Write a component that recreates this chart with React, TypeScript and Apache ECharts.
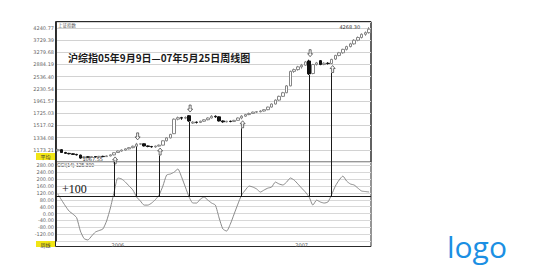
import React, { useEffect, useRef } from "react";
import * as echarts from "echarts";

// Weekly bars of the Shanghai Composite, 2005-09-09 .. 2007-05-25 (holiday weeks skipped)
const weeks = [
  "2005-09-09", "2005-09-16", "2005-09-23", "2005-09-30", "2005-10-14", "2005-10-21", "2005-10-28", "2005-11-04",
  "2005-11-11", "2005-11-18", "2005-11-25", "2005-12-02", "2005-12-09", "2005-12-16", "2005-12-23", "2005-12-30",
  "2006-01-06", "2006-01-13", "2006-01-20", "2006-01-27", "2006-02-10", "2006-02-17", "2006-02-24", "2006-03-03",
  "2006-03-10", "2006-03-17", "2006-03-24", "2006-03-31", "2006-04-07", "2006-04-14", "2006-04-21", "2006-04-28",
  "2006-05-12", "2006-05-19", "2006-05-26", "2006-06-02", "2006-06-09", "2006-06-16", "2006-06-23", "2006-06-30",
  "2006-07-07", "2006-07-14", "2006-07-21", "2006-07-28", "2006-08-04", "2006-08-11", "2006-08-18", "2006-08-25",
  "2006-09-01", "2006-09-08", "2006-09-15", "2006-09-22", "2006-09-29", "2006-10-13", "2006-10-20", "2006-10-27",
  "2006-11-03", "2006-11-10", "2006-11-17", "2006-11-24", "2006-12-01", "2006-12-08", "2006-12-15", "2006-12-22",
  "2006-12-29", "2007-01-05", "2007-01-12", "2007-01-19", "2007-01-26", "2007-02-02", "2007-02-09", "2007-02-16",
  "2007-03-02", "2007-03-09", "2007-03-16", "2007-03-23", "2007-03-30", "2007-04-06", "2007-04-13", "2007-04-20",
  "2007-04-27", "2007-05-11", "2007-05-18", "2007-05-25",
];

const opens = [
  1162, 1175, 1140, 1130, 1125, 1118, 1110, 1078, 1090, 1085,
  1092, 1088, 1095, 1092, 1100, 1112, 1140, 1158, 1170, 1185,
  1200, 1218, 1245, 1250, 1222, 1215, 1210, 1220, 1232, 1290,
  1330, 1390, 1620, 1645, 1638, 1680, 1555, 1570, 1565, 1585,
  1610, 1640, 1670, 1660, 1590, 1575, 1585, 1580, 1600, 1640,
  1672, 1700, 1720, 1745, 1752, 1765, 1790, 1840, 1900, 1980,
  2060, 2140, 2300, 2680, 2730, 2810, 2860, 2990, 2620, 2880,
  3000, 2880, 2920, 2910, 3050, 3170, 3260, 3380, 3480, 3580,
  3720, 3830, 3960, 4030,
];

const closes = [
  1175, 1140, 1130, 1125, 1118, 1112, 1075, 1090, 1085, 1092,
  1088, 1095, 1092, 1100, 1112, 1138, 1158, 1170, 1185, 1200,
  1218, 1245, 1250, 1222, 1215, 1210, 1220, 1232, 1290, 1330,
  1380, 1620, 1645, 1638, 1650, 1590, 1570, 1565, 1585, 1610,
  1640, 1670, 1660, 1590, 1575, 1585, 1580, 1600, 1640, 1672,
  1700, 1720, 1745, 1752, 1765, 1790, 1840, 1900, 1980, 2060,
  2140, 2300, 2680, 2730, 2810, 2860, 2960, 2610, 2880, 2930,
  2880, 2920, 2910, 3040, 3170, 3260, 3380, 3480, 3580, 3720,
  3830, 3960, 4030, 4180,
];

const lows = [
  1155, 1135, 1125, 1118, 1112, 1105, 1067.55, 1072, 1078, 1080,
  1082, 1083, 1086, 1088, 1094, 1106, 1135, 1150, 1162, 1178,
  1192, 1212, 1236, 1215, 1205, 1200, 1198, 1214, 1228, 1282,
  1322, 1385, 1600, 1610, 1620, 1575, 1540, 1548, 1555, 1575,
  1600, 1630, 1645, 1580, 1560, 1565, 1568, 1572, 1595, 1618,
  1660, 1690, 1710, 1730, 1740, 1755, 1780, 1830, 1890, 1965,
  2045, 2130, 2290, 2640, 2700, 2760, 2840, 2580, 2600, 2850,
  2860, 2860, 2880, 2895, 3020, 3140, 3230, 3340, 3450, 3550,
  3680, 3790, 3900, 3990,
];

const highs = [
  1185, 1180, 1148, 1136, 1130, 1124, 1114, 1096, 1096, 1098,
  1097, 1100, 1102, 1106, 1118, 1142, 1164, 1178, 1192, 1208,
  1226, 1262, 1258, 1255, 1228, 1222, 1226, 1240, 1296, 1338,
  1388, 1632, 1665, 1660, 1668, 1692, 1585, 1580, 1595, 1620,
  1652, 1690, 1685, 1668, 1598, 1592, 1595, 1608, 1650, 1690,
  1712, 1735, 1755, 1765, 1780, 1800, 1848, 1912, 1995, 2075,
  2160, 2320, 2700, 2760, 2840, 2900, 2990, 3030, 2900, 2960,
  3020, 2950, 2950, 3060, 3190, 3290, 3400, 3510, 3620, 3760,
  3870, 4000, 4080, 4268.3,
];

// CCI(14) on the weekly bars
const cci = [
  113, 78, 44, 14, -3, -24, -102, -146, -154, -131,
  -108, -99, -90, -43, 32, 125, 207, 201, 183, 160,
  137, 96, 73, 49, 49, 61, 81, 108, 160, 224,
  230, 241, 259, 212, 154, 96, 61, 61, 84, 96,
  78, 61, 49, -26, -90, -102, -61, -3, 55, 108,
  137, 160, 154, 143, 125, 137, 148, 154, 183, 172,
  166, 183, 207, 195, 172, 148, 125, 96, 49, 78,
  67, 61, 67, 110, 160, 195, 218, 189, 172, 166,
  148, 131, 128, 125.3,
];

// weeks where CCI crosses its +100 level
const buyWeeks = ["2005-12-30", "2006-03-31", "2006-09-08", "2007-03-09"];
const sellWeeks = ["2006-02-17", "2006-06-02", "2007-01-19"];

const TITLE = "沪综指05年9月9日—07年5月25日周线图";

// price panel: log scale, a grid line every STEP in natural-log units
const STEP = 0.1285;
const LN_MIN = 54 * STEP;
const LN_MAX = 8.4136;
const PRICE_MIN = Math.exp(LN_MIN);
const PRICE_MAX = Math.exp(LN_MAX);

const LEFT = 56;
const WIDTH = 315;
const MAIN_TOP = 22;
const MAIN_H = 140;
const SUB_TOP = MAIN_TOP + MAIN_H;
const SUB_H = 79;
const FRAME_BOTTOM = 247;
const PX_LN = (LN_MAX - LN_MIN) / MAIN_H;

const CCI_MIN = -160;
const CCI_MAX = 300;
const CCI_STEP = 40;
const CCI_LEVEL = 100;

const UP_ARROW = "path://M2.5,0 L5,3 L3.5,3 L3.5,7 L1.5,7 L1.5,3 L0,3 Z";
const DOWN_ARROW = "path://M2.5,7 L5,4 L3.5,4 L3.5,0 L1.5,0 L1.5,4 L0,4 Z";

export default function App() {
  const ref = useRef<HTMLDivElement>(null);

  useEffect(() => {
    if (!ref.current) return;
    const chart = echarts.init(ref.current, null, { renderer: "svg" });

    const candles = weeks.map((_, i) => [opens[i], closes[i], lows[i], highs[i]]);
    const buyIdx = buyWeeks.map((w) => weeks.indexOf(w));
    const sellIdx = sellWeeks.map((w) => weeks.indexOf(w));
    const allIdx = [...buyIdx, ...sellIdx];

    // connector from each signal bar down to the panel edge
    const priceLinks = [
      ...buyIdx.map((i) => [
        { coord: [i, lows[i] * Math.exp(-9 * PX_LN)] },
        { coord: [i, PRICE_MIN] },
      ]),
      ...sellIdx.map((i) => [{ coord: [i, lows[i]] }, { coord: [i, PRICE_MIN] }]),
    ];
    const cciLinks = allIdx.map((i) => [{ coord: [i, CCI_MAX] }, { coord: [i, CCI_LEVEL] }]);

    const isYearStart = (i: number) =>
      i > 0 && weeks[i].slice(0, 4) !== weeks[i - 1].slice(0, 4);

    const option: any = {
      animation: false,
      backgroundColor: "#ffffff",
      textStyle: { fontFamily: "DejaVu Sans" },
      grid: [
        {
          left: LEFT, top: MAIN_TOP, width: WIDTH, height: MAIN_H,
          show: true, borderColor: "#333", borderWidth: 1, backgroundColor: "transparent",
        },
        { left: LEFT, top: SUB_TOP, width: WIDTH, height: SUB_H },
      ],
      xAxis: [
        {
          type: "category", gridIndex: 0, data: weeks, boundaryGap: true,
          axisLine: { show: false }, axisTick: { show: false }, axisLabel: { show: false },
          splitLine: { show: false },
        },
        {
          type: "category", gridIndex: 1, data: weeks, boundaryGap: true,
          axisLine: { show: false }, axisTick: { show: false }, splitLine: { show: false },
          axisLabel: {
            show: true,
            interval: (i: number) => isYearStart(i),
            formatter: (v: string) => v.slice(0, 4),
            fontSize: 5, color: "#555", margin: 1,
          },
        },
      ],
      yAxis: [
        {
          type: "log", gridIndex: 0, position: "right", min: PRICE_MIN, max: PRICE_MAX, show: false,
          splitLine: { show: false },
        },
        {
          type: "value", gridIndex: 0, position: "left", min: LN_MIN, max: LN_MAX, interval: STEP,
          axisLine: { show: true, lineStyle: { color: "#333", width: 1 } },
          axisTick: { show: false },
          axisLabel: {
            fontSize: 5, color: "#666", margin: 2,
            showMinLabel: false, showMaxLabel: false,
            formatter: (v: number) => Math.exp(v).toFixed(2),
          },
          splitLine: { show: true, lineStyle: { color: "#d2d2d2", width: 1 } },
        },
        {
          type: "value", gridIndex: 1, position: "left", min: CCI_MIN, max: CCI_MAX, interval: CCI_STEP,
          axisLine: { show: true, lineStyle: { color: "#333", width: 1 } },
          axisTick: { show: false },
          axisLabel: {
            fontSize: 5, color: "#666", margin: 2,
            showMinLabel: false, showMaxLabel: false,
            formatter: (v: number) => v.toFixed(2),
          },
          splitLine: { show: true, lineStyle: { color: "#d8d8d8", width: 1 } },
        },
      ],
      series: [
        {
          type: "candlestick", name: "周线", xAxisIndex: 0, yAxisIndex: 0,
          data: candles, barWidth: 3,
          itemStyle: {
            color: "#ffffff", color0: "#111111",
            borderColor: "#858585", borderColor0: "#111111", borderWidth: 1,
          },
          markPoint: {
            symbol: "circle", symbolSize: 0, silent: true,
            label: {
              show: true, fontSize: 5, color: "#333",
              formatter: (p: any) => Number(p.value).toFixed(2),
            },
            data: [
              { type: "max", valueDim: "highest", label: { position: "left", distance: 9 } },
              { type: "min", valueDim: "lowest", label: { position: "right", distance: 2 } },
            ],
          },
          markLine: {
            symbol: ["none", "none"], silent: true,
            label: { show: false },
            lineStyle: { color: "#1a1a1a", width: 1, type: "solid" },
            emphasis: { disabled: true },
            data: priceLinks,
          },
        },
        {
          type: "scatter", name: "买入", xAxisIndex: 0, yAxisIndex: 0,
          data: buyIdx.map((i) => [i, lows[i]]),
          symbol: UP_ARROW, symbolSize: [5, 7], symbolOffset: [1, 5],
          itemStyle: { color: "#ffffff", borderColor: "#222", borderWidth: 0.8 },
          silent: true,
        },
        {
          type: "scatter", name: "卖出", xAxisIndex: 0, yAxisIndex: 0,
          data: sellIdx.map((i) => [i, highs[i]]),
          symbol: DOWN_ARROW, symbolSize: [5, 7], symbolOffset: [1, -6.5],
          itemStyle: { color: "#ffffff", borderColor: "#222", borderWidth: 0.8 },
          silent: true,
        },
        {
          type: "line", name: "CCI", xAxisIndex: 1, yAxisIndex: 2,
          data: cci, showSymbol: false, smooth: 0.2,
          lineStyle: { color: "#8a8a8a", width: 1 },
          markLine: {
            symbol: ["none", "none"], silent: true,
            label: { show: false },
            lineStyle: { color: "#1a1a1a", width: 1, type: "solid" },
            emphasis: { disabled: true },
            data: [
              {
                yAxis: CCI_LEVEL,
                label: {
                  show: true, position: "insideStartTop", formatter: "+" + CCI_LEVEL,
                  fontSize: 12, fontFamily: "Liberation Serif", color: "#111", distance: [6, 1],
                },
              },
              ...cciLinks,
            ],
          },
        },
      ],
      graphic: [
        {
          type: "rect", silent: true,
          shape: { x: LEFT - 0.5, y: MAIN_TOP - 0.5, width: WIDTH + 0.5, height: FRAME_BOTTOM - MAIN_TOP },
          style: { fill: "none", stroke: "#2a2a2a", lineWidth: 1 },
        },
        {
          type: "text", x: 68, y: 57, silent: true,
          style: {
            text: TITLE, fontSize: 10, fontWeight: "bold", fontFamily: "Noto Sans CJK SC",
            fill: "#1a1a1a", verticalAlign: "middle",
          },
        },
        {
          type: "text", x: 58, y: 24.5, silent: true,
          style: { text: "上证指数", fontSize: 4.5, fill: "#555", verticalAlign: "middle", fontFamily: "Noto Sans CJK SC" },
        },
        {
          type: "text", x: 57, y: 165, silent: true,
          style: {
            text: `CCI(14) ${cci[cci.length - 1].toFixed(3)}`, fontSize: 5, fill: "#444",
            verticalAlign: "middle",
          },
        },
        {
          type: "rect", silent: true, shape: { x: 36, y: 153, width: 19, height: 7 },
          style: { fill: "#f1e515" },
        },
        {
          type: "text", x: 45.5, y: 156.5, silent: true,
          style: { text: "平均", fontSize: 5, fill: "#333", align: "center", verticalAlign: "middle", fontFamily: "Noto Sans CJK SC" },
        },
        {
          type: "rect", silent: true, shape: { x: 36, y: 241, width: 19, height: 6 },
          style: { fill: "#f1e515" },
        },
        {
          type: "text", x: 45.5, y: 244, silent: true,
          style: { text: "周线", fontSize: 5, fill: "#333", align: "center", verticalAlign: "middle", fontFamily: "Noto Sans CJK SC" },
        },
        {
          type: "text", x: 447, y: 246.5, silent: true,
          style: {
            text: "logo", fontSize: 30, fontFamily: "Open Sans", fill: "#1b8fe3",
            verticalAlign: "middle", align: "left",
          },
        },
      ],
    };

    chart.setOption(option);
    return () => chart.dispose();
  }, []);

  return (
    <div style={{ position: "fixed", left: 0, top: 0, width: 536, height: 270, background: "#fff" }}>
      <div ref={ref} style={{ width: 536, height: 270 }} />
    </div>
  );
}
